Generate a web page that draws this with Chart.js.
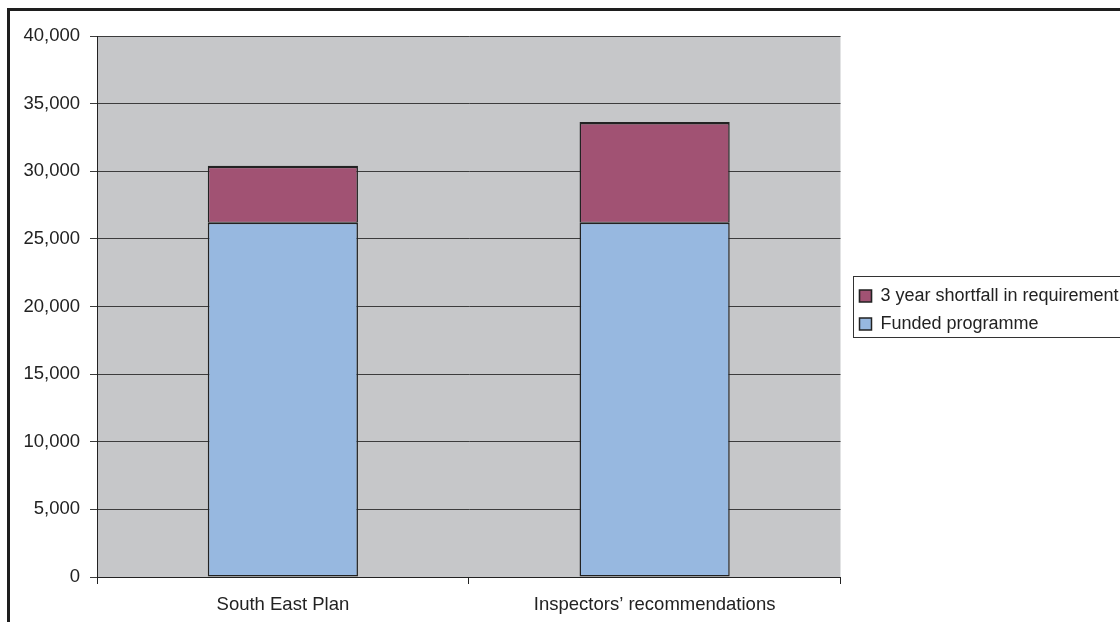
<!DOCTYPE html>
<html>
<head>
<meta charset="utf-8">
<script src="https://cdn.jsdelivr.net/npm/chart.js@4.4.1/dist/chart.umd.min.js"></script>
<style>
  html, body { margin: 0; padding: 0; background: #fff; overflow: hidden; }
  #wrap { position: relative; width: 1120px; height: 622px; }
  #frame { position: absolute; left: 7px; top: 8px; width: 1300px; height: 800px; border: 3px solid #1e1e1e; }
  canvas { position: absolute; left: 0; top: 0; }
</style>
</head>
<body>
<div id="wrap">
  <div id="frame"></div>
  <canvas id="chart" width="1120" height="622"></canvas>
</div>
<script>
const categories = ["South East Plan", "Inspectors\u2019 recommendations"];
const fundedProgramme = [26200, 26200];
const shortfall = [4200, 7450];
const yTicks = [0, 5000, 10000, 15000, 20000, 25000, 30000, 35000, 40000];

const ink = "#222222";
const font = { family: "'Liberation Sans', Arial, sans-serif", size: 18.5 };

// nudge the legend away from the plot, then box it in
const legendBox = {
  id: "legendBox",
  afterLayout(chart) {
    const l = chart.legend;
    l.left += 9;
    l.right += 9;
    l.top -= 19;
    l.bottom -= 19;
  },
  afterDraw(chart) {
    const l = chart.legend;
    if (!l || !l.legendHitBoxes.length) return;
    const ctx = chart.ctx;
    const first = l.legendHitBoxes[0];
    const last = l.legendHitBoxes[l.legendHitBoxes.length - 1];
    const top = Math.round(first.top + first.height / 2) - 20;
    const bottom = Math.round(last.top + last.height / 2) + 13;
    ctx.save();
    ctx.strokeStyle = "#333";
    ctx.lineWidth = 1;
    ctx.strokeRect(Math.round(l.left + 10) - 6.5, top + 0.5, 400, bottom - top);
    ctx.restore();
  },
};

new Chart(document.getElementById("chart"), {
  type: "bar",
  data: {
    labels: categories,
    datasets: [
      {
        label: "Funded programme",
        data: fundedProgramme,
        backgroundColor: "#97b8e0",
        borderColor: ink,
        borderWidth: 1.5,
        borderSkipped: false,
        inflateAmount: 0,
      },
      {
        label: "3 year shortfall in requirement",
        data: shortfall,
        backgroundColor: "#a15273",
        borderColor: ink,
        borderWidth: { top: 2.5, left: 1.5, right: 1.5, bottom: 1 },
        borderSkipped: false,
        inflateAmount: 0,
      },
    ],
  },
  options: {
    responsive: false,
    animation: false,
    devicePixelRatio: 1,
    layout: { padding: { top: 36, left: 20, bottom: 0, right: 6 } },
    datasets: { bar: { categoryPercentage: 1, barPercentage: 0.404 } },
    plugins: {
      tooltip: { enabled: false },
      legend: {
        position: "right",
        reverse: true,
        labels: {
          font: { family: font.family, size: 18 },
          color: ink,
          boxWidth: 12,
          boxHeight: 12,
          padding: 10,
        },
      },
    },
    scales: {
      x: {
        stacked: true,
        offset: true,
        grid: { offset: true, drawOnChartArea: false, color: ink, tickLength: 7 },
        border: { color: ink },
        ticks: { font: font, color: ink, padding: 10 },
        afterFit(scale) { scale.height = 45; },
      },
      y: {
        stacked: true,
        min: 0,
        max: 40000,
        afterBuildTicks(scale) { scale.ticks = yTicks.map((v) => ({ value: v })); },
        grid: { color: "#3c3c3c", tickLength: 7 },
        border: { color: ink },
        ticks: {
          font: font,
          color: ink,
          padding: 10,
          callback: (v) => v.toLocaleString("en-US"),
        },
        afterFit(scale) { scale.width = 77; },
      },
    },
  },
  plugins: [legendBox, {
    id: "plotBg",
    beforeDraw(chart) {
      const a = chart.chartArea;
      chart.ctx.save();
      chart.ctx.fillStyle = "#c6c7c9";
      chart.ctx.fillRect(a.left, a.top, a.right - a.left, a.bottom - a.top);
      chart.ctx.restore();
    },
  }],
});
</script>
</body>
</html>
